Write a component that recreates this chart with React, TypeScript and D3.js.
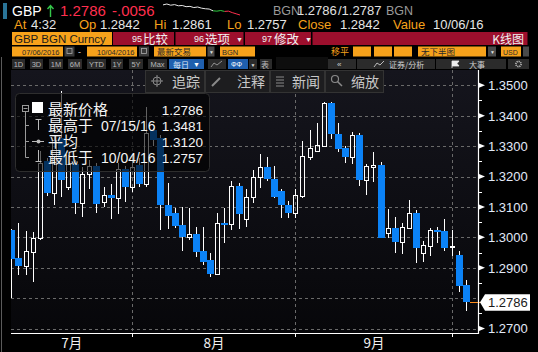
import React from "react";
import * as d3 from "d3";

// ---------- data ----------
const dates = [
  "07/06","07/07","07/08","07/11","07/12","07/13","07/14","07/15","07/18","07/19","07/20","07/21","07/22","07/25","07/26","07/27","07/28","07/29",
  "08/01","08/02","08/03","08/04","08/05","08/08","08/09","08/10","08/11","08/12","08/15","08/16","08/17","08/18","08/19","08/22","08/23","08/24","08/25","08/26","08/29","08/30","08/31",
  "09/01","09/02","09/05","09/06","09/07","09/08","09/09","09/12","09/13","09/14","09/15","09/16","09/19","09/20","09/21","09/22","09/23","09/26","09/27","09/28","09/29","09/30",
  "10/03","10/04",
];
const opens = [
  1.3024,1.2933,1.2907,1.2953,1.2997,1.3250,1.3147,1.3327,1.3166,1.3240,1.3112,1.3208,1.3235,1.3115,1.3139,1.3128,1.3224,1.3164,
  1.3238,1.3175,1.3352,1.3326,1.3106,1.3081,1.3040,1.3002,1.3011,1.2956,1.2925,1.2878,1.3048,1.3043,1.3169,1.3059,1.3134,1.3197,1.3230,1.3191,1.3152,1.3106,1.3079,
  1.3136,1.3265,1.3285,1.3301,1.3441,1.3339,1.3293,1.3265,1.3336,1.3188,1.3230,1.3238,1.3015,1.3032,1.2986,1.3032,1.3081,1.2949,1.2972,1.3024,1.3021,1.2967,
  1.2942,1.2842,
];
const highs = [
  1.3027,1.3048,1.3021,1.3018,1.3285,1.3262,1.3335,1.3481,1.3270,1.3255,1.3231,1.3254,1.3244,1.3164,1.3175,1.3245,1.3236,1.3270,
  1.3260,1.3430,1.3360,1.3335,1.3178,1.3095,1.3099,1.3095,1.3035,1.3035,1.2947,1.3081,1.3095,1.3186,1.3180,1.3160,1.3221,1.3274,1.3265,1.3235,1.3160,1.3119,1.3158,
  1.3318,1.3353,1.3377,1.3445,1.3445,1.3375,1.3300,1.3347,1.3342,1.3241,1.3282,1.3249,1.3092,1.3068,1.3048,1.3123,1.3090,1.2989,1.3030,1.3035,1.3060,1.3024,
  1.2955,1.2861,
];
const lows = [
  1.2799,1.2876,1.2876,1.2854,1.2990,1.3136,1.3106,1.3134,1.3156,1.3077,1.3068,1.3158,1.3081,1.3099,1.3059,1.3077,1.3117,1.3150,
  1.3165,1.3165,1.3300,1.3024,1.3027,1.3030,1.2956,1.2991,1.2936,1.2909,1.2868,1.2878,1.2980,1.3024,1.3026,1.3035,1.3114,1.3161,1.3185,1.3130,1.3062,1.3062,1.3062,
  1.3130,1.3254,1.3285,1.3301,1.3322,1.3280,1.3243,1.3241,1.3169,1.3139,1.3183,1.2999,1.2999,1.2949,1.2945,1.3030,1.2916,1.2920,1.2938,1.2982,1.2956,1.2939,
  1.2821,1.2757,
];
const closes = [
  1.2929,1.2906,1.2955,1.2998,1.3245,1.3147,1.3320,1.3188,1.3240,1.3112,1.3208,1.3235,1.3109,1.3139,1.3128,1.3224,1.3164,1.3230,
  1.3175,1.3343,1.3320,1.3106,1.3070,1.3037,1.3002,1.3011,1.2953,1.2920,1.2878,1.3046,1.3041,1.3169,1.3076,1.3134,1.3197,1.3230,1.3191,1.3134,1.3106,1.3079,1.3139,
  1.3267,1.3293,1.3304,1.3441,1.3339,1.3289,1.3265,1.3336,1.3188,1.3235,1.3237,1.2999,1.3032,1.2986,1.3035,1.3081,1.2966,1.2975,1.3024,1.3017,1.2966,1.2971,
  1.2841,1.2786,
];
const yTickValues = [1.27, 1.28, 1.29, 1.3, 1.31, 1.32, 1.33, 1.34, 1.35];
const lastPrice = 1.2786;
const legendLabels = ["最新价格", "最高于 07/15/16", "平均", "最低于 10/04/16"];
const legendValues = ["1.2786", "1.3481", "1.3120", "1.2757"];
const sparkValues = [1.2852, 1.2855, 1.2851, 1.2853, 1.2849, 1.2850, 1.2846, 1.2847, 1.2843, 1.2845, 1.2841, 1.2839, 1.2838, 1.2832, 1.2831, 1.2833, 1.2830, 1.2831, 1.2826, 1.2822, 1.2818];
const periodButtons = ["1D", "3D", "1M", "6M", "YTD", "1Y", "5Y", "Max"];
const toolButtons = ["追踪", "注释", "新闻", "缩放"];

// ---------- styles ----------
const BLUE = "#0b82f6";
const ORANGE = "#f7a21b";
const RED = "#9c0f2d";
const LAT = "'Liberation Sans', Arial, sans-serif";
const CJK = "'Noto Sans CJK SC', 'Liberation Sans', sans-serif";

const PL = 11, PR = 478, PT = 70, PB = 333;

export default function App() {
  const x = d3.scaleBand<string>().domain(dates).range([7.75, 469.25]).padding(0);
  const cx = (d: string) => Math.round((x(d) as number) + x.bandwidth() / 2) + 0.5;
  const y = d3.scaleLinear().domain([1.27, 1.35]).range([328.5, 85.3]);
  const ry = (v: number) => Math.round(y(v)) + 0.5;

  // month boundaries: last trading day of each month
  const bounds: number[] = [];
  dates.forEach((d, i) => {
    if (i < dates.length - 1 && d.slice(0, 2) !== dates[i + 1].slice(0, 2)) bounds.push(i);
  });
  const boundX = bounds.map((i) => cx(dates[i]));
  const monthLabels = bounds.map((bi, k) => {
    const left = k === 0 ? PL : boundX[k - 1];
    const m = parseInt(dates[bi].slice(0, 2), 10);
    return { x: (left + boundX[k]) / 2, text: `${m}月` };
  });

  const minorTicks = d3.range(yTickValues.length - 1).map((i) => (yTickValues[i] + yTickValues[i + 1]) / 2);

  // sparkline
  const sx = d3.scaleLinear().domain([0, sparkValues.length - 1]).range([163, 240]);
  const sy = d3.scaleLinear().domain(d3.extent(sparkValues) as [number, number]).range([15, 4]);
  const n = sparkValues.length;
  const segWhite = sparkValues.slice(0, n - 7);
  const segGreen = sparkValues.slice(n - 8, n - 4);
  const segRed = sparkValues.slice(n - 5);
  const lineFrom = (vals: number[], offset: number) =>
    d3.line<number>().x((_, i) => sx(i + offset)).y((v) => sy(v))(vals) as string;

  const lastY = y(lastPrice);

  return (
    <svg width={538} height={352} style={{ position: "fixed", left: 0, top: 0, display: "block" }} xmlns="http://www.w3.org/2000/svg">
      <defs>
        <linearGradient id="bg" x1="0" y1="0" x2="0" y2="1">
          <stop offset="0" stopColor="#15151d" />
          <stop offset="1" stopColor="#07070a" />
        </linearGradient>
        <clipPath id="plotClip">
          <rect x={PL} y={PT} width={PR - PL} height={PB - PT} />
        </clipPath>
      </defs>
      <rect x={0} y={0} width={538} height={352} fill="#000" />

      {/* ---------- header row 1 ---------- */}
      <rect x={3} y={3} width={4} height={16} fill="#2a7497" />
      <text x={12} y={16} fill="#fff" fontFamily={LAT} fontSize={14}>GBP</text>
      <path d="M50.5,17 L50.5,6 M47.5,9 L50.5,5.5 L53.5,9" stroke="#35c74a" strokeWidth={1.4} fill="none" />
      <text x={60} y={16} fill="#ff2f4e" fontFamily={LAT} fontSize={15}>1.2786</text>
      <text x={112} y={16} fill="#ff2f4e" fontFamily={LAT} fontSize={15}>-.0056</text>
      <path d={lineFrom(segWhite, 0)} stroke="#e8e8e8" strokeWidth={1} fill="none" />
      <path d={lineFrom(segGreen, n - 8)} stroke="#2ecc40" strokeWidth={1} fill="none" />
      <path d={lineFrom(segRed, n - 5)} stroke="#ff2f4e" strokeWidth={1} fill="none" />
      <text x={273} y={15} fill="#9a9a9a" fontFamily={LAT} fontSize={12.5}>BGN</text>
      <text x={297} y={15} fill="#e0e0e0" fontFamily={LAT} fontSize={13}>1.2786</text>
      <text x={338} y={15} fill="#e0e0e0" fontFamily={LAT} fontSize={13}>/1.2787</text>
      <text x={386} y={15} fill="#9a9a9a" fontFamily={LAT} fontSize={12.5}>BGN</text>

      {/* ---------- header row 2 ---------- */}
      {[
        ["At", 14, true], ["4:32", 31, false], ["Op", 79, true], ["1.2842", 100, false],
        ["Hi", 154, true], ["1.2861", 172, false], ["Lo", 227, true], ["1.2757", 247, false],
        ["Close", 298, true], ["1.2842", 340, false], ["Value", 393, true], ["10/06/16", 433, false],
      ].map(([t, xx, o], i) => (
        <text key={i} x={xx as number} y={28.5} fill={o ? ORANGE : "#e6e6e6"} fontFamily={LAT} fontSize={13}>{t as string}</text>
      ))}

      {/* ---------- header row 3 ---------- */}
      <rect x={12} y={32} width={100} height={13} fill={ORANGE} />
      <text x={14} y={42.5} fill="#1a1a1a" fontFamily={LAT} fontSize={11.5}>GBP BGN Curncy</text>
      <rect x={113} y={32} width={61} height={13} fill={RED} />
      <rect x={175.5} y={32} width={68} height={13} fill={RED} />
      <rect x={245} y={32} width={66} height={13} fill={RED} />
      <rect x={312.5} y={32} width={215} height={13} fill={RED} />
      <text x={132} y={42} fill="#f0f0f0" fontFamily={LAT} fontSize={9}>95</text>
      <text x={143} y={43.5} fill="#f0f0f0" fontFamily={CJK} fontSize={12.5}>比较</text>
      <text x={194} y={42} fill="#f0f0f0" fontFamily={LAT} fontSize={9}>96</text>
      <text x={205} y={43.5} fill="#f0f0f0" fontFamily={CJK} fontSize={12.5}>选项</text>
      <text x={236} y={41.5} fill="#f0f0f0" fontFamily={LAT} fontSize={7}>▼</text>
      <text x={262} y={42} fill="#f0f0f0" fontFamily={LAT} fontSize={9}>97</text>
      <text x={274} y={43.5} fill="#f0f0f0" fontFamily={CJK} fontSize={12.5}>修改</text>
      <text x={305} y={41.5} fill="#f0f0f0" fontFamily={LAT} fontSize={7}>▼</text>
      <text x={524} y={43.5} fill="#f0f0f0" fontFamily={CJK} fontSize={12} textAnchor="end">K线图</text>

      {/* ---------- header row 4 ---------- */}
      <rect x={12} y={46.5} width={51} height={10} fill={ORANGE} />
      <text x={22} y={54.5} fill="#2a2a2a" fontFamily={LAT} fontSize={7.5}>07/06/2016</text>
      <rect x={64.5} y={46.5} width={10} height={10} fill="#3a3a3a" />
      <rect x={67} y={48.5} width={5} height={5} fill="none" stroke="#aaa" strokeWidth={0.8} />
      <text x={78} y={54.5} fill="#ddd" fontFamily={LAT} fontSize={9}>-</text>
      <rect x={87} y={46.5} width={50} height={10} fill={ORANGE} />
      <text x={97} y={54.5} fill="#2a2a2a" fontFamily={LAT} fontSize={7.5}>10/04/2016</text>
      <rect x={139} y={46.5} width={10} height={10} fill="#3a3a3a" />
      <rect x={141.5} y={48.5} width={5} height={5} fill="none" stroke="#aaa" strokeWidth={0.8} />
      <rect x={154} y={46.5} width={52} height={10} fill={ORANGE} />
      <text x={157} y={55} fill="#2a2a2a" fontFamily={CJK} fontSize={8.5}>最新交易</text>
      <rect x={207.5} y={46.5} width={7} height={10} fill="#4a4a4a" />
      <text x={209} y={54} fill="#ddd" fontFamily={LAT} fontSize={5}>▼</text>
      <rect x={220} y={46.5} width={35} height={10} fill={ORANGE} />
      <text x={222} y={54.5} fill="#2a2a2a" fontFamily={LAT} fontSize={7.5}>BGN</text>
      <text x={331} y={55} fill={ORANGE} fontFamily={CJK} fontSize={9}>移平</text>
      <rect x={353} y={46.5} width={18} height={10} fill={ORANGE} />
      <rect x={374} y={46.5} width={18} height={10} fill={ORANGE} />
      <rect x={394} y={46.5} width={18} height={10} fill={ORANGE} />
      <rect x={418} y={46.5} width={68} height={10} fill={ORANGE} />
      <text x={421} y={55} fill="#2a2a2a" fontFamily={CJK} fontSize={8.5}>无下半图</text>
      <rect x={488} y={46.5} width={8} height={10} fill="#4a4a4a" />
      <text x={490} y={54} fill="#ddd" fontFamily={LAT} fontSize={5}>▼</text>
      <rect x={501} y={46.5} width={20} height={10} fill={ORANGE} />
      <text x={503} y={54.5} fill="#2a2a2a" fontFamily={LAT} fontSize={7}>USD</text>
      <rect x={523} y={46.5} width={6} height={10} fill="#4a4a4a" />

      {/* ---------- header row 5 ---------- */}
      {periodButtons.map((t, i) => {
        const bx = [12, 30, 49, 68, 87, 111, 129, 148][i];
        const bw = [13, 13, 14, 14, 19, 12, 14, 19][i];
        return (
          <g key={t}>
            <rect x={bx} y={59} width={bw} height={10} fill="#2b2b2b" />
            <text x={bx + bw / 2} y={67} fill="#b8b8b8" fontFamily={LAT} fontSize={7.5} textAnchor="middle">{t}</text>
          </g>
        );
      })}
      <rect x={169} y={59} width={35} height={10} fill="#1f5fae" />
      <text x={173} y={67.5} fill="#dfe8f5" fontFamily={CJK} fontSize={8}>每日</text>
      <text x={193} y={67} fill="#fff" fontFamily={LAT} fontSize={7}>▼</text>
      <rect x={208} y={59} width={18} height={10} fill="#2b2b2b" />
      <path d="M211,67 L214,63 L217,65 L222,61" stroke="#aaa" strokeWidth={0.8} fill="none" />
      <rect x={228} y={59} width={20} height={10} fill="#1f5fae" />
      <text x={231} y={67} fill="#fff" fontFamily={LAT} fontSize={7}>ΦΦ</text>
      <rect x={249} y={59} width={8} height={10} fill="#2b2b2b" />
      <text x={250.5} y={66.5} fill="#ddd" fontFamily={LAT} fontSize={5}>▼</text>
      <rect x={260} y={59} width={12} height={10} fill="#2b2b2b" />
      <text x={261} y={67.5} fill="#bbb" fontFamily={CJK} fontSize={8}>表</text>
      <rect x={276} y={57} width={52} height={12} fill="#0e0e0e" />
      <rect x={328} y={59} width={28} height={10} fill="#2b2b2b" />
      <text x={337} y={67} fill="#ccc" fontFamily={LAT} fontSize={8}>«</text>
      <rect x={357} y={59} width={78} height={10} fill="#2b2b2b" />
      <path d="M374,67 L377,63 L380,65 L384,61" stroke="#ccc" strokeWidth={0.9} fill="none" />
      <text x={389} y={67.5} fill="#cfcfcf" fontFamily={CJK} fontSize={8}>证券/分析</text>
      <rect x={436} y={59} width={70} height={10} fill="#2b2b2b" />
      <path d="M452,68 L452,61 L459,61 L457,63.5 L459,66 L452,66" stroke="#eee" strokeWidth={0.8} fill="#eee" />
      <text x={469} y={67.5} fill="#cfcfcf" fontFamily={CJK} fontSize={8}>大事</text>
      <rect x={508} y={59} width={21} height={10} fill="#2b2b2b" />
      <circle cx={518.5} cy={64} r={2.6} fill="none" stroke="#bbb" strokeWidth={1.6} strokeDasharray="1.2 0.8" />

      {/* ---------- plot area ---------- */}
      <line x1={1.5} x2={1.5} y1={57} y2={352} stroke="#5a5a5a" strokeWidth={1} />
      <rect x={PL} y={PT} width={PR - PL} height={PB - PT} fill="url(#bg)" />

      {/* grid */}
      {yTickValues.map((v) => (
        <line key={v} x1={PL} x2={PR} y1={ry(v)} y2={ry(v)} stroke="#6a6a6a" strokeWidth={1} strokeDasharray="3 3" />
      ))}
      {boundX.map((bx, i) => (
        <line key={i} x1={bx} x2={bx} y1={PT} y2={PB} stroke="#6a6a6a" strokeWidth={1} strokeDasharray="3 3" />
      ))}

      {/* candles */}
      <g clipPath="url(#plotClip)" shapeRendering="crispEdges">
        {dates.map((d, i) => {
          const c = cx(d);
          const o = opens[i], cl = closes[i];
          const up = cl >= o;
          const top = Math.round(y(Math.max(o, cl)));
          const bot = Math.round(y(Math.min(o, cl)));
          const hy = Math.round(y(highs[i]));
          const ly = Math.round(y(lows[i]));
          if (up) {
            const h = Math.max(bot - top, 1);
            return (
              <g key={d}>
                <line x1={c} x2={c} y1={hy} y2={top} stroke="#fff" strokeWidth={1} />
                <line x1={c} x2={c} y1={top + h} y2={ly} stroke="#fff" strokeWidth={1} />
                <rect x={c - 2} y={top + 0.5} width={4} height={h} fill="none" stroke="#fff" strokeWidth={1.2} />
              </g>
            );
          }
          const h = Math.max(bot - top, 2);
          return (
            <g key={d}>
              <line x1={c} x2={c} y1={hy} y2={ly} stroke="#fff" strokeWidth={1} />
              <rect x={c - 3.5} y={top} width={7} height={h} fill={BLUE} />
            </g>
          );
        })}
      </g>

      {/* last price line */}
      <line x1={470} x2={481} y1={Math.round(lastY) + 0.5} y2={Math.round(lastY) + 0.5} stroke="#ff8c1a" strokeWidth={1} />

      {/* ---------- chart toolbar ---------- */}
      {toolButtons.map((t, i) => {
        const bx = [145, 205, 270, 325][i];
        const bw = [59, 64, 54, 58][i];
        return (
          <g key={t}>
            <rect x={bx + 0.5} y={70.5} width={bw} height={22} fill="#1d1d1f" stroke="#333" strokeWidth={1} />
            <text x={bx + bw - 4} y={87} fill="#c8c8c8" fontFamily={CJK} fontSize={14} textAnchor="end">{t}</text>
          </g>
        );
      })}
      <circle cx={157} cy={81} r={4} fill="none" stroke="#8a8a8a" strokeWidth={1} />
      <path d="M151,81 H163 M157,75 V87" stroke="#8a8a8a" strokeWidth={1} />
      <path d="M212,86 L220,78" stroke="#8a8a8a" strokeWidth={2} />
      <path d="M276,77 H284 M276,80 H284 M276,83 H284 M276,86 H284" stroke="#8a8a8a" strokeWidth={1.2} />
      <circle cx={335} cy={79} r={3.5} fill="none" stroke="#8a8a8a" strokeWidth={1.2} />
      <path d="M337.5,81.5 L342,86" stroke="#8a8a8a" strokeWidth={1.5} />

      {/* ---------- legend ---------- */}
      <rect x={15.5} y={93.5} width={194} height={78} rx={4} fill="#000" fillOpacity={0.62} stroke="#2e2e2e" strokeWidth={1} />
      <rect x={22.5} y={105.5} width={6} height={6} fill="none" stroke="#9a9a9a" strokeWidth={1} />
      <line x1={23.5} x2={27.5} y1={108.5} y2={108.5} stroke="#9a9a9a" strokeWidth={1} />
      <rect x={32} y={102} width={11} height={11} fill="#fff" />
      <path d="M25.5,112 V157.5 M25.5,125.5 H29 M25.5,141.5 H29 M25.5,157.5 H29" stroke="#9a9a9a" strokeWidth={1} fill="none" />
      <path d="M35.5,119.5 H41.5 M38.5,119.5 V130" stroke="#bbb" strokeWidth={1} fill="none" />
      <path d="M32,141.5 H44" stroke="#bbb" strokeWidth={1} />
      <circle cx={38.5} cy={141.5} r={2} fill="#bbb" />
      <path d="M38.5,150 V161.5 M35.5,161.5 H41.5" stroke="#bbb" strokeWidth={1} fill="none" />
      {legendLabels.map((t, i) => {
        const [cjk, date] = t.split(" ");
        return (
          <g key={t}>
            <text x={48} y={115 + i * 16} fill="#f4f4f4" fontFamily={CJK} fontSize={15}>{cjk}</text>
            {date ? (
              <text x={101} y={115 + i * 16} fill="#f4f4f4" fontFamily={LAT} fontSize={14}>{date}</text>
            ) : null}
          </g>
        );
      })}
      {legendValues.map((t, i) => (
        <text key={i} x={203} y={115 + i * 16} fill="#f4f4f4" fontFamily={LAT} fontSize={13.5} textAnchor="end">{t}</text>
      ))}

      {/* ---------- axes ---------- */}
      <line x1={PR + 0.5} x2={PR + 0.5} y1={PT} y2={PB + 1} stroke="#fff" strokeWidth={1.2} />
      <line x1={PL} x2={PR + 1} y1={PB + 0.5} y2={PB + 0.5} stroke="#fff" strokeWidth={1.2} />
      {boundX.map((bx, i) => (
        <line key={i} x1={bx} x2={bx} y1={PB} y2={PB + 4} stroke="#fff" strokeWidth={1} />
      ))}
      {monthLabels.map((m) => (
        <text key={m.text} x={m.x} y={348} fill="#f0f0f0" fontFamily={CJK} fontSize={13.5} textAnchor="middle">{m.text}</text>
      ))}
      {minorTicks.map((v, i) => (
        <line key={i} x1={PR} x2={PR + 4} y1={ry(v)} y2={ry(v)} stroke="#fff" strokeWidth={1} />
      ))}
      {yTickValues.map((v) =>
        Math.abs(v - lastPrice) < 0.004 ? null : (
          <g key={v}>
            <path d={`M${PR + 1},${y(v) - 2.5} L${PR + 7},${y(v)} L${PR + 1},${y(v) + 2.5} Z`} fill="#fff" />
            <text x={488} y={y(v) + 4.8} fill="#e2eaf8" fontFamily={LAT} fontSize={13}>{d3.format(".4f")(v)}</text>
          </g>
        )
      )}
      <path
        d={`M${480},${lastY} L${485},${lastY - 8} L${530},${lastY - 8} L${530},${lastY + 8.5} L${485},${lastY + 8.5} Z`}
        fill="#fff"
      />
      <text x={488} y={lastY + 5} fill="#1a1a1a" fontFamily={LAT} fontSize={13}>{lastPrice.toFixed(4)}</text>
    </svg>
  );
}
